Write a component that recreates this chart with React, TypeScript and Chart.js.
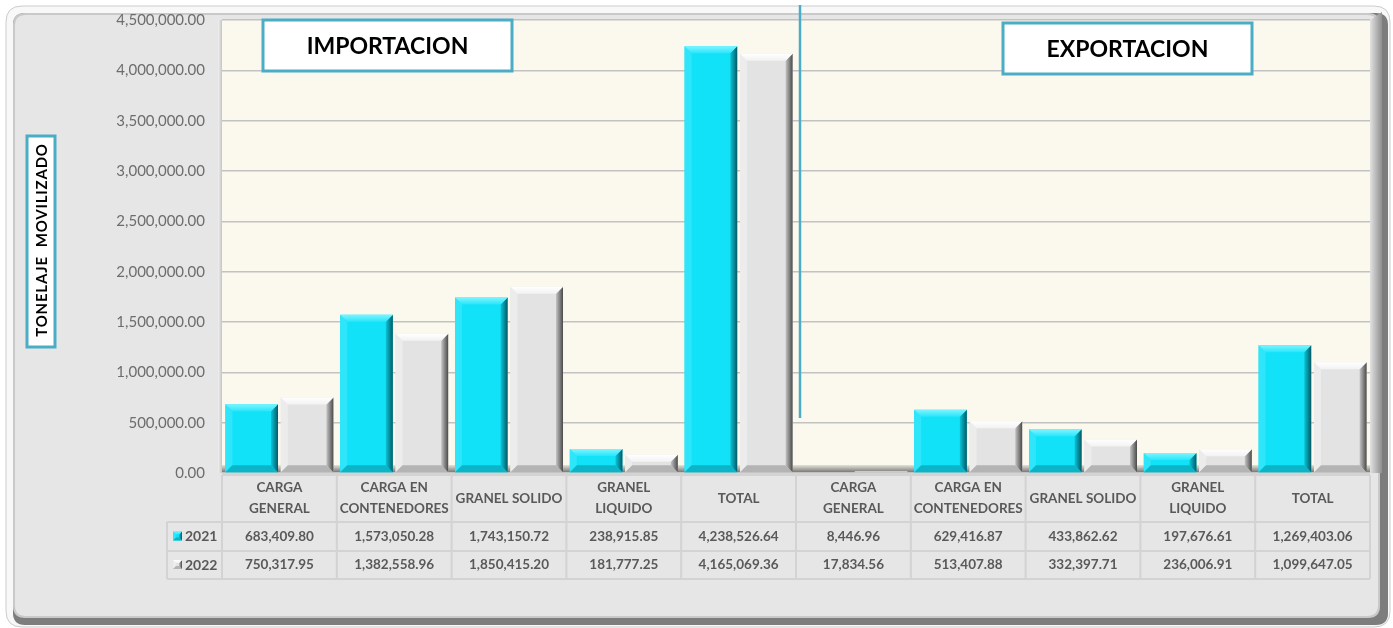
import React, { useEffect, useRef } from "react";
import { Chart, registerables } from "chart.js";

Chart.register(...registerables);

// ---------- DATA ----------
const categories: string[][] = [
  ["CARGA", "GENERAL"],
  ["CARGA EN", "CONTENEDORES"],
  ["GRANEL SOLIDO"],
  ["GRANEL", "LIQUIDO"],
  ["TOTAL"],
  ["CARGA", "GENERAL"],
  ["CARGA EN", "CONTENEDORES"],
  ["GRANEL SOLIDO"],
  ["GRANEL", "LIQUIDO"],
  ["TOTAL"],
];
const seriesNames = ["2021", "2022"];
const values2021 = [683409.8, 1573050.28, 1743150.72, 238915.85, 4238526.64, 8446.96, 629416.87, 433862.62, 197676.61, 1269403.06];
const values2022 = [750317.95, 1382558.96, 1850415.2, 181777.25, 4165069.36, 17834.56, 513407.88, 332397.71, 236006.91, 1099647.05];
const sectionTitles = ["IMPORTACION", "EXPORTACION"];
const yAxisTitle = "TONELAJE  MOVILIZADO";
const yMin = 0;
const yMax = 4500000;
const yStep = 500000;

// ---------- STYLE ----------
const FONT = "Lato, 'Open Sans', sans-serif";
const TEAL = "#4bacc6";
const palettes = [
  { base: "#12e2f8", top0: "#7ef4ff", top1: "#28e6fb", left: "#2ee5f9", bottom: "#0cb4c7", right0: "#0cc4d8", right1: "#045a66" },
  { base: "#e3e3e3", top0: "#ffffff", top1: "#f2f2f2", left: "#ececec", bottom: "#b4b4b4", right0: "#c4c4c4", right1: "#4a4a4a" },
];

const fmt = (v: number) => v.toLocaleString("en-US", { minimumFractionDigits: 2, maximumFractionDigits: 2 });

function poly(ctx: CanvasRenderingContext2D, pts: number[][], fill: any) {
  ctx.beginPath();
  ctx.moveTo(pts[0][0], pts[0][1]);
  for (let i = 1; i < pts.length; i++) ctx.lineTo(pts[i][0], pts[i][1]);
  ctx.closePath();
  ctx.fillStyle = fill;
  ctx.fill();
}

function bevel(ctx: CanvasRenderingContext2D, l: number, t: number, r: number, b: number, size: number, pal: any) {
  const s = Math.min(size, (b - t) / 2, (r - l) / 2);
  if (s < 0.6) return;
  poly(ctx, [[l, t], [l + s, t + s], [l + s, b - s], [l, b]], pal.left);
  poly(ctx, [[l, b], [l + s, b - s], [r - s, b - s], [r, b]], pal.bottom);
  const gr = ctx.createLinearGradient(r - s, 0, r, 0);
  gr.addColorStop(0, pal.right0);
  gr.addColorStop(1, pal.right1);
  poly(ctx, [[r, t], [r, b], [r - s, b - s], [r - s, t + s]], gr);
  const gt = ctx.createLinearGradient(0, t, 0, t + s);
  gt.addColorStop(0, pal.top0);
  gt.addColorStop(1, pal.top1);
  poly(ctx, [[l, t], [r, t], [r - s, t + s], [l + s, t + s]], gt);
}

function roundRect(ctx: CanvasRenderingContext2D, x: number, y: number, w: number, h: number, r: number) {
  ctx.beginPath();
  ctx.moveTo(x + r, y);
  ctx.lineTo(x + w - r, y);
  ctx.quadraticCurveTo(x + w, y, x + w, y + r);
  ctx.lineTo(x + w, y + h - r);
  ctx.quadraticCurveTo(x + w, y + h, x + w - r, y + h);
  ctx.lineTo(x + r, y + h);
  ctx.quadraticCurveTo(x, y + h, x, y + h - r);
  ctx.lineTo(x, y + r);
  ctx.quadraticCurveTo(x, y, x + r, y);
  ctx.closePath();
}

const backgroundPlugin = {
  id: "bgFrame",
  beforeDraw(chart: any) {
    const { ctx, width, height, chartArea: ca } = chart;
    ctx.save();
    ctx.fillStyle = "#ffffff";
    ctx.fillRect(0, 0, width, height);
    // outer frame
    roundRect(ctx, 6, 6, 1384, 621, 16);
    ctx.fillStyle = "#f8f8f8";
    ctx.fill();
    ctx.strokeStyle = "#cccccc";
    ctx.lineWidth = 1;
    ctx.stroke();
    roundRect(ctx, 13, 13, 1375, 612, 12);
    ctx.fillStyle = "#7d7d7d";
    ctx.fill();
    roundRect(ctx, 13, 13, 1367, 605, 12);
    ctx.fillStyle = "#c9c9c9";
    ctx.fill();
    roundRect(ctx, 15, 15, 1363, 601, 11);
    ctx.fillStyle = "#e6e6e6";
    ctx.fill();
    // plot back wall
    ctx.fillStyle = "#fbf9ee";
    ctx.fillRect(ca.left, ca.top, ca.right - ca.left, ca.bottom - ca.top);
    // right wall
    const gw = ctx.createLinearGradient(ca.right, 0, ca.right + 12, 0);
    gw.addColorStop(0, "#e2e2e2");
    gw.addColorStop(1, "#8f8f8f");
    poly(ctx, [[ca.right, ca.top], [ca.right + 12, ca.top - 8], [ca.right + 12, ca.bottom], [ca.right, ca.bottom]], gw);
    // left wall
    const gl = ctx.createLinearGradient(ca.left - 4, 0, ca.left, 0);
    gl.addColorStop(0, "#f0f0f0");
    gl.addColorStop(1, "#c4c4c4");
    ctx.fillStyle = gl;
    ctx.fillRect(ca.left - 4, ca.top, 4, ca.bottom - ca.top);
    // floor
    const gf = ctx.createLinearGradient(0, ca.bottom - 8, 0, ca.bottom);
    gf.addColorStop(0, "#e4e2d8");
    gf.addColorStop(1, "#6c6c6c");
    ctx.fillStyle = gf;
    ctx.fillRect(ca.left, ca.bottom - 8, ca.right - ca.left, 8);
    ctx.restore();
  },
};

const bevelPlugin = {
  id: "bevel",
  afterDatasetsDraw(chart: any) {
    const { ctx } = chart;
    ctx.save();
    chart.data.datasets.forEach((_: any, di: number) => {
      const meta = chart.getDatasetMeta(di);
      meta.data.forEach((el: any) => {
        const { x, y, base, width } = el.getProps(["x", "y", "base", "width"], true);
        bevel(ctx, x - width / 2, Math.min(y, base), x + width / 2, Math.max(y, base), 7, palettes[di]);
      });
    });
    ctx.restore();
  },
};

const overlayPlugin = {
  id: "overlay",
  afterDraw(chart: any) {
    const { ctx, chartArea: ca } = chart;
    const xs = chart.scales.x;
    const n = categories.length;
    const cw = (ca.right - ca.left) / n;
    ctx.save();

    // divider between import and export
    const divX = (xs.getPixelForValue(4) + xs.getPixelForValue(5)) / 2 + 4;
    ctx.strokeStyle = TEAL;
    ctx.lineWidth = 2.5;
    ctx.beginPath();
    ctx.moveTo(divX, 5);
    ctx.lineTo(divX, ca.bottom - 55);
    ctx.stroke();

    // section title boxes
    const boxes = [
      { x: ca.left + 41, y: 20, w: 249, h: 51 },
      { x: ca.left + 781, y: 23, w: 249, h: 51 },
    ];
    boxes.forEach((b, i) => {
      ctx.fillStyle = "#ffffff";
      ctx.fillRect(b.x, b.y, b.w, b.h);
      ctx.strokeStyle = TEAL;
      ctx.lineWidth = 3;
      ctx.strokeRect(b.x, b.y, b.w, b.h);
      ctx.fillStyle = "#000000";
      ctx.font = `bold 23px ${FONT}`;
      ctx.textAlign = "center";
      ctx.textBaseline = "middle";
      ctx.fillText(sectionTitles[i], b.x + b.w / 2, b.y + b.h / 2 + 1);
    });

    // y axis title
    ctx.fillStyle = "#ffffff";
    ctx.fillRect(27, 136, 28, 211);
    ctx.strokeStyle = TEAL;
    ctx.lineWidth = 3;
    ctx.strokeRect(27, 136, 28, 211);
    ctx.save();
    ctx.translate(41.5, 240);
    ctx.rotate(-Math.PI / 2);
    ctx.fillStyle = "#000000";
    ctx.font = `bold 15px ${FONT}`;
    (ctx as any).letterSpacing = "0.8px";
    ctx.textAlign = "center";
    ctx.textBaseline = "middle";
    ctx.fillText(yAxisTitle, 0, 1);
    ctx.restore();

    // data table
    const hTop = ca.bottom + 2;
    const hBot = ca.bottom + 49;
    const r1 = ca.bottom + 78;
    const r2 = ca.bottom + 106;
    const labL = ca.left - 55;
    ctx.strokeStyle = "#d3d3d3";
    ctx.lineWidth = 2;
    ctx.beginPath();
    ctx.moveTo(ca.left, hTop);
    ctx.lineTo(ca.right, hTop);
    [hBot, r1, r2].forEach((yy) => {
      ctx.moveTo(labL, yy);
      ctx.lineTo(ca.right, yy);
    });
    ctx.moveTo(labL, hBot);
    ctx.lineTo(labL, r2);
    for (let i = 0; i <= n; i++) {
      const xx = ca.left + i * cw;
      ctx.moveTo(xx, hTop);
      ctx.lineTo(xx, r2);
    }
    ctx.stroke();

    ctx.fillStyle = "#595959";
    ctx.textAlign = "center";
    ctx.textBaseline = "middle";
    ctx.font = `bold 13.5px ${FONT}`;
    categories.forEach((lines, i) => {
      const cx = xs.getPixelForValue(i);
      if (lines.length === 1) {
        ctx.fillText(lines[0], cx, (hTop + hBot) / 2);
      } else {
        ctx.fillText(lines[0], cx, hTop + 13);
        ctx.fillText(lines[1], cx, hTop + 34);
      }
    });
    const rows = [
      { vals: values2021, yc: (hBot + r1) / 2 },
      { vals: values2022, yc: (r1 + r2) / 2 },
    ];
    rows.forEach((row, ri) => {
      row.vals.forEach((v, i) => {
        ctx.fillStyle = "#595959";
        ctx.fillText(fmt(v), xs.getPixelForValue(i), row.yc);
      });
      // legend marker
      const mx = labL + 6;
      ctx.fillStyle = palettes[ri].base;
      ctx.fillRect(mx, row.yc - 5, 9, 9);
      bevel(ctx, mx, row.yc - 5, mx + 9, row.yc + 4, 3, palettes[ri]);
      ctx.fillStyle = "#595959";
      ctx.textAlign = "left";
      ctx.font = `bold 14px ${FONT}`;
      ctx.fillText(seriesNames[ri], mx + 12, row.yc);
      ctx.textAlign = "center";
      ctx.font = `bold 13.5px ${FONT}`;
    });

    ctx.restore();
  },
};

export default function App() {
  const canvasRef = useRef<HTMLCanvasElement | null>(null);

  useEffect(() => {
    if (!canvasRef.current) return;
    const chart = new Chart(canvasRef.current, {
      type: "bar",
      data: {
        labels: categories.map((c) => c.join(" ")),
        datasets: [
          {
            label: seriesNames[0],
            data: values2021,
            backgroundColor: palettes[0].base,
            borderWidth: 0,
            categoryPercentage: 0.965,
            barPercentage: 0.95,
          },
          {
            label: seriesNames[1],
            data: values2022,
            backgroundColor: palettes[1].base,
            borderWidth: 0,
            categoryPercentage: 0.965,
            barPercentage: 0.95,
          },
        ],
      },
      options: {
        responsive: false,
        animation: false,
        devicePixelRatio: 1,
        layout: { padding: { top: 20, right: 23, bottom: 155, left: 0 } },
        plugins: {
          legend: { display: false },
          tooltip: { enabled: false },
        },
        scales: {
          x: { display: false },
          y: {
            min: yMin,
            max: yMax,
            border: { display: false },
            grid: { color: "#c2c2c2", lineWidth: 1.5, drawTicks: false },
            ticks: {
              stepSize: yStep,
              padding: 17,
              color: "#6d6d6d",
              font: { family: FONT, size: 15 },
              callback: (v: any) => fmt(Number(v)),
            },
            afterFit: (scale: any) => {
              scale.width = 222;
              scale.paddingTop = 0;
              scale.paddingBottom = 0;
            },
          },
        },
      },
      plugins: [backgroundPlugin, bevelPlugin, overlayPlugin],
    });
    return () => chart.destroy();
  }, []);

  return (
    <div style={{ position: "absolute", left: 0, top: 0, width: 1393, height: 628 }}>
      <canvas ref={canvasRef} width={1393} height={628} />
    </div>
  );
}
